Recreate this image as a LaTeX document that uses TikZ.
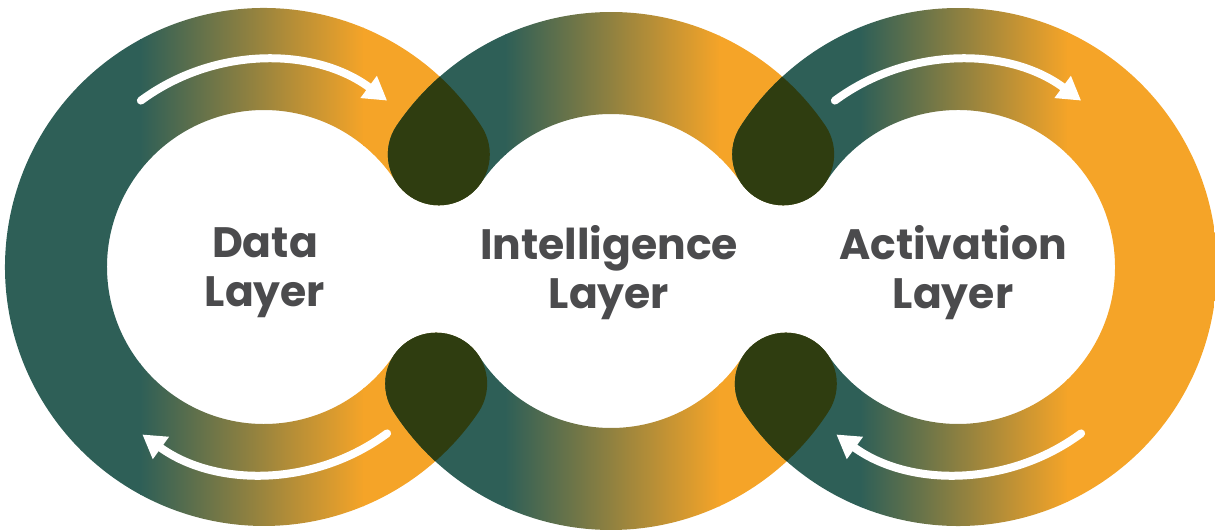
\documentclass[tikz,border=0pt]{standalone}
\usepackage{fontspec}
\newfontfamily\layerfont{Poppins Bold}
\usetikzlibrary{calc,arrows.meta}
\definecolor{ringteal}{HTML}{2E5F57}
\definecolor{ringorange}{HTML}{F5A428}
\definecolor{ringknot}{HTML}{2F3D10}
\definecolor{labelgray}{HTML}{4B4B4D}
% ring geometry (1pt = 1px)
\newcommand{\ringout}{259}
\newcommand{\ringin}{157}
\newcommand{\ringmid}{208}
\newcommand{\ringcap}{51}
% band of a ring: arc from #2 to #3 round centre #1, with round ends
\newcommand{\ringband}[3]{($(#1)+(#2:\ringout)$) arc[start angle=#2,end angle=#3,radius=\ringout]
  -- ($(#1)+(#3:\ringin)$) arc[start angle=#3,end angle=#2,radius=\ringin] -- cycle
  ($(#1)+(#2:\ringmid)$) circle[radius=\ringcap] ($(#1)+(#3:\ringmid)$) circle[radius=\ringcap]}
\tikzset{
  flow/.style={white,line width=8pt,line cap=round,-{Triangle[length=23pt,width=26pt]}},
  layer/.style={text=labelgray,font=\layerfont\fontsize{42.5}{49}\selectfont,align=center,inner sep=0pt}
}
\begin{document}
\begin{tikzpicture}[x=1pt,y=1pt]
\useasboundingbox (0,0) rectangle (1215,532);
\coordinate (data) at (264,265);
\coordinate (intel) at (611,261);
\coordinate (act) at (958,265);
% data ring
\begin{scope}
  \clip \ringband{data}{32.81}{325.87};
  \fill[ringteal] (0,0) rectangle (141,532);
  \shade[left color=ringteal,right color=ringorange] (140,0) rectangle (364,532);
  \fill[ringorange] (363,0) rectangle (700,532);
\end{scope}
% intelligence ring
\begin{scope}
  \clip \ringband{intel}{34.13}{145.87} \ringband{intel}{212.81}{327.19};
  \fill[ringteal] (300,0) rectangle (506,532);
  \shade[left color=ringteal,right color=ringorange] (505,0) rectangle (720,532);
  \fill[ringorange] (719,0) rectangle (950,532);
\end{scope}
% activation ring
\begin{scope}
  \clip \ringband{act}{214.13}{507.19};
  \fill[ringteal] (650,0) rectangle (861,532);
  \shade[left color=ringteal,right color=ringorange] (860,0) rectangle (1068,532);
  \fill[ringorange] (1067,0) rectangle (1230,532);
\end{scope}
% overlaps
\begin{scope}
  \clip \ringband{data}{32.81}{325.87};
  \fill[ringknot] \ringband{intel}{34.13}{145.87} \ringband{intel}{212.81}{327.19};
\end{scope}
\begin{scope}
  \clip \ringband{act}{214.13}{507.19};
  \fill[ringknot] \ringband{intel}{34.13}{145.87} \ringband{intel}{212.81}{327.19};
\end{scope}
% arrows
\draw[flow] ($(data)+(126.5:207)$) arc[start angle=126.5,end angle=53.5,radius=207];
\draw[flow] ($(data)+(-53.5:207)$) arc[start angle=-53.5,end angle=-126,radius=207];
\draw[flow] ($(act)+(126.5:207)$) arc[start angle=126.5,end angle=53.5,radius=207];
\draw[flow] ($(act)+(-53.5:207)$) arc[start angle=-53.5,end angle=-126,radius=207];
% labels
\node[layer] (datalabel) at (265,259) {Data\\Layer};
\node[layer] (intellabel) at (609,259) {Intelligence\\Layer};
\node[layer] (actlabel) at (953,259) {Activation\\Layer};
\end{tikzpicture}
\end{document}
